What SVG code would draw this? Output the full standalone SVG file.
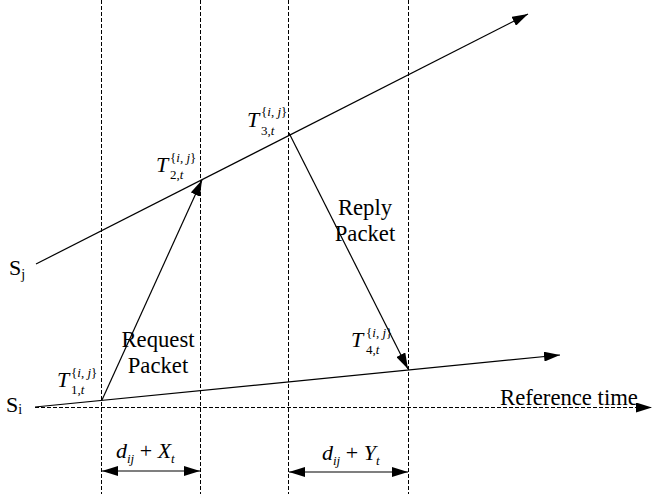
<svg xmlns="http://www.w3.org/2000/svg" width="653" height="496" viewBox="0 0 653 496">
<style>
.t{font-family:"Liberation Serif","Times New Roman",serif;fill:#000}
.lbl{font-size:22.7px}
.it{font-style:italic}
.dash{stroke:#000;stroke-width:1;stroke-dasharray:4,2;fill:none}
.ln{stroke:#000;stroke-width:1.2;fill:none}
</style>
<defs>
<marker id="ah" markerUnits="userSpaceOnUse" markerWidth="16" markerHeight="10" refX="16" refY="5" orient="auto-start-reverse" viewBox="0 0 16 10">
<path d="M0,0 L16,5 L0,10 z" fill="#000"/>
</marker>
</defs>
<g id="connectors">
<line class="dash" x1="101.5" y1="0" x2="101.5" y2="494"/>
<line class="dash" x1="200.5" y1="0" x2="200.5" y2="494"/>
<line class="dash" x1="288.5" y1="0" x2="288.5" y2="494"/>
<line class="dash" x1="408.5" y1="0" x2="408.5" y2="494"/>
<line class="dash" x1="35" y1="407.5" x2="652" y2="407.5" marker-end="url(#ah)"/>
<line class="ln" x1="36" y1="264" x2="528" y2="14" marker-end="url(#ah)"/>
<line class="ln" x1="35" y1="407" x2="560" y2="355" marker-end="url(#ah)"/>
<line class="ln" x1="102" y1="400" x2="202" y2="180" marker-end="url(#ah)"/>
<line class="ln" x1="289" y1="133" x2="408" y2="369" marker-end="url(#ah)"/>
<line class="ln" x1="102" y1="471" x2="200" y2="471" marker-start="url(#ah)" marker-end="url(#ah)"/>
<line class="ln" x1="289" y1="472" x2="408" y2="472" marker-start="url(#ah)" marker-end="url(#ah)"/>
</g>
<g id="Sj"><text class="t" x="9" y="275" font-size="22">S<tspan font-size="14" dy="4">j</tspan></text></g>
<g id="Si"><text class="t" x="6" y="412" font-size="22">S<tspan font-size="14" dy="2">i</tspan></text></g>
<g id="T1"><text class="t it" x="57" y="387" font-size="22">T</text><text class="t" x="71" y="394" font-size="13">1,<tspan class="it">t</tspan></text><text class="t" x="71" y="377" font-size="13">{<tspan class="it">i</tspan>, <tspan class="it">j</tspan>}</text></g>
<g id="T2"><text class="t it" x="156" y="172" font-size="22">T</text><text class="t" x="170" y="179" font-size="13">2,<tspan class="it">t</tspan></text><text class="t" x="170" y="162" font-size="13">{<tspan class="it">i</tspan>, <tspan class="it">j</tspan>}</text></g>
<g id="T3"><text class="t it" x="247" y="127" font-size="22">T</text><text class="t" x="261" y="135" font-size="13">3,<tspan class="it">t</tspan></text><text class="t" x="261" y="116" font-size="13">{<tspan class="it">i</tspan>, <tspan class="it">j</tspan>}</text></g>
<g id="T4"><text class="t it" x="351" y="347" font-size="22">T</text><text class="t" x="366" y="354" font-size="13">4,<tspan class="it">t</tspan></text><text class="t" x="366" y="337" font-size="13">{<tspan class="it">i</tspan>, <tspan class="it">j</tspan>}</text></g>
<g id="request"><text class="t lbl" x="158" y="347" text-anchor="middle">Request</text><text class="t lbl" x="158" y="373" text-anchor="middle">Packet</text></g>
<g id="reply"><text class="t lbl" x="365" y="215" text-anchor="middle">Reply</text><text class="t lbl" x="365" y="241" text-anchor="middle">Packet</text></g>
<g id="reftime"><text class="t lbl" x="500" y="405">Reference time</text></g>
<g id="dX"><text class="t it" x="116" y="458" font-size="22">d<tspan font-size="13" dy="5">ij</tspan><tspan font-style="normal" dy="-5"> + </tspan>X<tspan font-size="13" dy="5">t</tspan></text></g>
<g id="dY"><text class="t it" x="322" y="460" font-size="22">d<tspan font-size="13" dy="5">ij</tspan><tspan font-style="normal" dy="-5"> + </tspan>Y<tspan font-size="13" dy="5">t</tspan></text></g>
</svg>
